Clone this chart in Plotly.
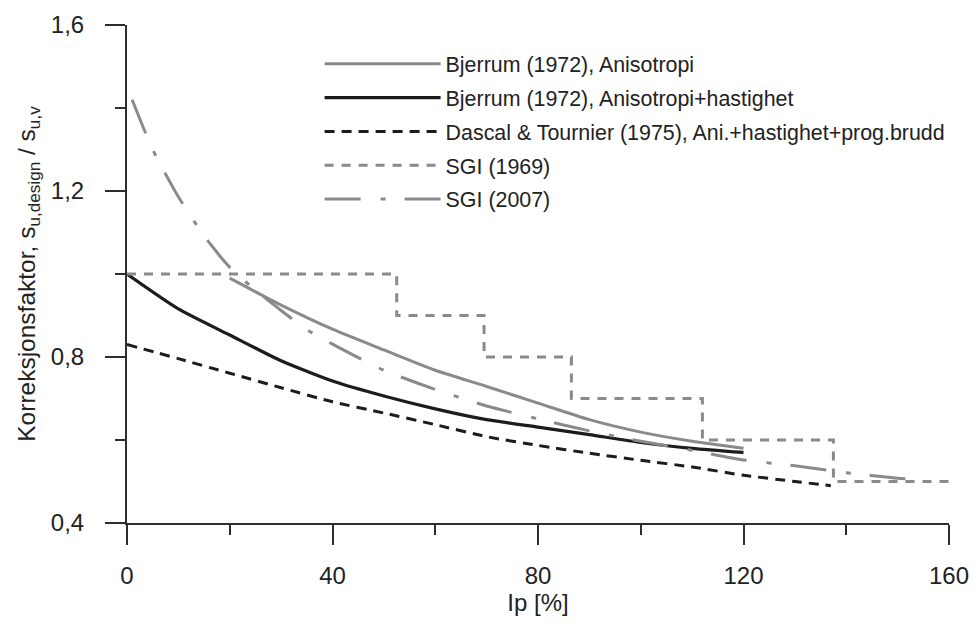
import plotly.graph_objects as go

# ---- data ----
bjerrum_ip = [20, 30, 40, 50, 60, 70, 80, 90, 100, 110, 120]
bjerrum_val = [0.99, 0.925, 0.867, 0.817, 0.768, 0.729, 0.689, 0.649, 0.619, 0.597, 0.580]

bjerrum_h_ip = [0, 10, 20, 30, 40, 50, 60, 70, 80, 90, 100, 110, 120]
bjerrum_h_val = [1.0, 0.916, 0.853, 0.791, 0.742, 0.706, 0.675, 0.649, 0.631, 0.613, 0.594, 0.580, 0.570]

dascal_ip = [0, 10, 20, 30, 40, 50, 60, 70, 80, 90, 100, 110, 120, 130, 137]
dascal_val = [0.83, 0.796, 0.761, 0.726, 0.692, 0.665, 0.637, 0.608, 0.587, 0.568, 0.551, 0.535, 0.515, 0.50, 0.49]

sgi1969_ip = [0, 52.5, 69.5, 86.5, 112, 137.5, 160]
sgi1969_val = [1.0, 0.9, 0.8, 0.7, 0.6, 0.5, 0.5]

sgi2007_ip = [1, 5, 10, 15, 20, 25, 30, 35, 40, 50, 60, 70, 80, 90, 100, 110, 120, 130, 140, 150, 155]
sgi2007_val = [1.42, 1.30, 1.186, 1.092, 1.016, 0.961, 0.912, 0.866, 0.831, 0.768, 0.722, 0.682, 0.651,
               0.622, 0.597, 0.575, 0.552, 0.538, 0.521, 0.508, 0.504]

names = [
    "Bjerrum (1972), Anisotropi",
    "Bjerrum (1972), Anisotropi+hastighet",
    "Dascal & Tournier (1975), Ani.+hastighet+prog.brudd",
    "SGI (1969)",
    "SGI (2007)",
]

x_ticks = [0, 40, 80, 120, 160]
y_ticks = [0.4, 0.8, 1.2, 1.6]

# ---- styles ----
GRAY = "#8a8a8a"
BLACK = "#1c1c1c"
AXIS = "#2e2e2e"
FONT = "Liberation Sans, Arial, sans-serif"

fig = go.Figure()
fig.add_trace(go.Scatter(x=bjerrum_ip, y=bjerrum_val, name=names[0], mode="lines", legendgroup="g1",
                         line=dict(color=GRAY, width=3, shape="spline", smoothing=0.6)))
fig.add_trace(go.Scatter(x=bjerrum_h_ip, y=bjerrum_h_val, name=names[1], mode="lines", legendgroup="g2",
                         line=dict(color=BLACK, width=3.2, shape="spline", smoothing=0.6)))
fig.add_trace(go.Scatter(x=dascal_ip, y=dascal_val, name=names[2], mode="lines", legendgroup="g3",
                         line=dict(color=BLACK, width=3, dash="10px,7px", shape="spline", smoothing=0.6)))
fig.add_trace(go.Scatter(x=sgi1969_ip, y=sgi1969_val, name=names[3], mode="lines", legendgroup="g4",
                         line=dict(color=GRAY, width=3, dash="9px,8px", shape="hv")))
fig.add_trace(go.Scatter(x=sgi2007_ip, y=sgi2007_val, name=names[4], mode="lines", legendgroup="g5",
                         line=dict(color=GRAY, width=3, dash="36px,20px,5px,19px",
                                   shape="spline", smoothing=0.6)))

axis_common = dict(
    showline=True, linecolor=AXIS, linewidth=2,
    ticks="outside", ticklen=20, tickwidth=2, tickcolor=AXIS,
    showgrid=False, zeroline=False, automargin=False,
    tickfont=dict(family=FONT, size=24, color="#222"),
)

fig.update_layout(
    width=973, height=623,
    margin=dict(l=127, r=24, t=25, b=100),
    paper_bgcolor="white", plot_bgcolor="white",
    separators=", ",
    font=dict(family=FONT, color="#222"),
    xaxis=dict(range=[0, 160], tickvals=x_ticks, **axis_common,
               minor=dict(dtick=20, tick0=0, ticks="outside", ticklen=10, tickwidth=2, tickcolor=AXIS),
               ticklabelstandoff=10,
               title=dict(text="Ip [%]", font=dict(family=FONT, size=24), standoff=2)),
    yaxis=dict(range=[0.4, 1.6], tickvals=y_ticks, tickformat=".1f", **axis_common,
               minor=dict(dtick=0.2, tick0=0.4, ticks="outside", ticklen=10, tickwidth=2, tickcolor=AXIS),
               ticklabelstandoff=16,
               title=dict(text="Korreksjonsfaktor, s<sub>u,design</sub> / s<sub>u,v</sub>",
                          font=dict(family=FONT, size=24.5), standoff=8)),
    legend=dict(x=0.2343, y=0.963, xanchor="left", yanchor="top",
                font=dict(family=FONT, size=21.4, color="#222"),
                itemwidth=116, bgcolor="rgba(0,0,0,0)", tracegroupgap=3),
    showlegend=True,
)

fig.write_html("out.html")
